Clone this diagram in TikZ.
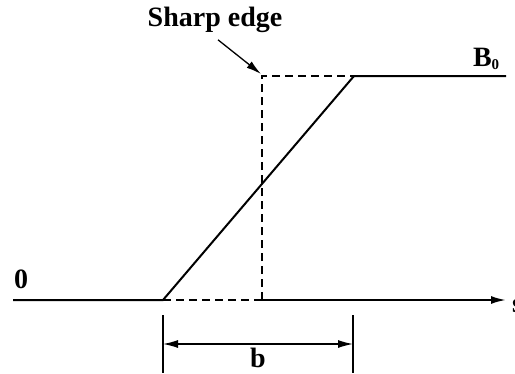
\documentclass[tikz,border=0pt]{standalone}
\usepackage{fontspec}
\setmainfont{Liberation Serif}
\usetikzlibrary{arrows.meta,positioning}

\begin{document}
\begin{tikzpicture}[x=1pt, y=-1pt, line width=2pt,
  lbl/.style={font=\fontsize{28}{30}\selectfont\bfseries, inner sep=0pt},
  guide/.style={dashed, dash pattern=on 8pt off 5pt},
  tip/.style={-{Latex[length=15pt,width=8pt]}}]
\useasboundingbox (0,0) rectangle (515,373);
% Corners of the profile
\coordinate (start) at (13,300);
\coordinate (foot) at (163,300);
\coordinate (edgelow) at (262,300);
\coordinate (edgetop) at (262,76);
\coordinate (knee) at (354,76);
\coordinate (topend) at (506,76);
\coordinate (axisend) at (506,300);

% Labels
\node[lbl] (sharp) at (215,20) {Sharp edge};
\node[lbl, anchor=south west] (bnull) at (472,71) {B\textsubscript{\fontsize{15}{15}\selectfont 0}};
\node[lbl, anchor=south west] (zero) at (13,290) {0};
\node[lbl, anchor=west] (s) at (511,306) {s};

% Profile
\draw (start) -- (foot) -- (knee) -- (topend);
\draw[tip] (edgelow) -- (axisend);
\draw[guide] (foot) -- (edgelow);
\draw[guide] (edgelow) -- (edgetop) -- (knee);
\draw[line width=1.3pt, tip] (sharp.south) ++(3,6) coordinate (from) -- ([xshift=-1pt,yshift=2pt]edgetop);

% Width b
\coordinate (bl) at (163,315);
\coordinate (br) at (353,315);
\draw[line width=1.2pt] (bl) -- ++(0,58) (br) -- ++(0,58);
\draw[line width=1.3pt, {Latex[length=15pt,width=8pt]}-{Latex[length=15pt,width=8pt]}] ([yshift=-29pt]bl) -- node[lbl, below=3pt] (b) {b} ([yshift=-29pt]br);
\end{tikzpicture}
\end{document}
